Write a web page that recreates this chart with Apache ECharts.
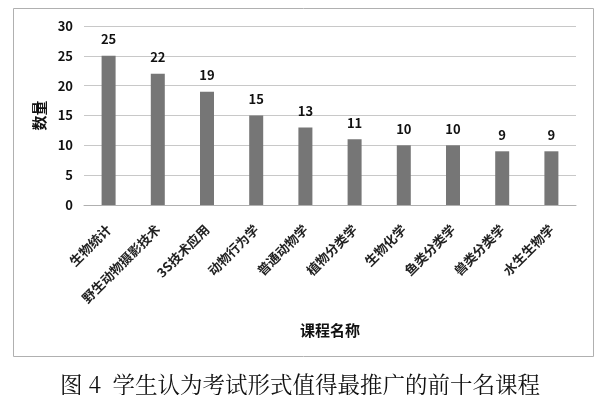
<!DOCTYPE html>
<html>
<head>
<meta charset="utf-8">
<script src="https://cdn.jsdelivr.net/npm/echarts@6/dist/echarts.min.js"></script>
<style>
html,body{margin:0;padding:0;background:#fff;}
#c{width:600px;height:395px;}
</style>
</head>
<body>
<div id="c"></div>
<script>
const categories = ['生物统计','野生动物摄影技术','3S技术应用','动物行为学','普通动物学','植物分类学','生物化学','鱼类分类学','兽类分类学','水生生物学'];
const values = [25,22,19,15,13,11,10,10,9,9];
const yTicks = [0,5,10,15,20,25,30];
const caption = '图 4  学生认为考试形式值得最推广的前十名课程';
const xTitle = '课程名称';
const yTitle = '数量';

const chart = echarts.init(document.getElementById('c'), null, {renderer:'canvas'});
const font = '"Noto Sans CJK SC", sans-serif';
chart.setOption({
  animation:false,
  backgroundColor:'#fff',
  graphic:[
    {type:'rect', shape:{x:13.5,y:8.5,width:580,height:348}, style:{fill:'none', stroke:'#b0b0b0', lineWidth:1}, z:-1}
  ],
  title:{
    text:caption, left:'center', top:368,
    textStyle:{fontFamily:'"Noto Serif CJK SC","Noto Sans CJK SC",serif', fontSize:22.5, fontWeight:'normal', color:'#111'}
  },
  grid:{left:84, right:24, top:26, bottom:190},
  xAxis:{
    type:'category', data:categories,
    name:xTitle, nameLocation:'middle', nameGap:118,
    nameTextStyle:{fontFamily:font, fontSize:15, fontWeight:'bold', color:'#111'},
    axisLine:{lineStyle:{color:'#b0b0b0'}},
    axisTick:{show:false},
    axisLabel:{rotate:45, interval:0, fontFamily:font, fontSize:13, fontWeight:'bold', color:'#222', margin:22}
  },
  yAxis:{
    type:'value', min:0, max:30, interval:5,
    name:yTitle, nameLocation:'middle', nameGap:32, nameRotate:90,
    nameTextStyle:{fontFamily:font, fontSize:15, fontWeight:'bold', color:'#111'},
    axisLine:{show:false}, axisTick:{show:false},
    axisLabel:{fontFamily:font, fontSize:13, fontWeight:'bold', color:'#111', margin:11},
    splitLine:{lineStyle:{color:'#c8c8c8'}}
  },
  series:[{
    type:'bar', data:values, barWidth:14,
    itemStyle:{color:'#767676'},
    label:{show:true, position:'top', distance:10, fontFamily:font, fontSize:13, fontWeight:'bold', color:'#111'}
  }]
});
</script>
</body>
</html>
